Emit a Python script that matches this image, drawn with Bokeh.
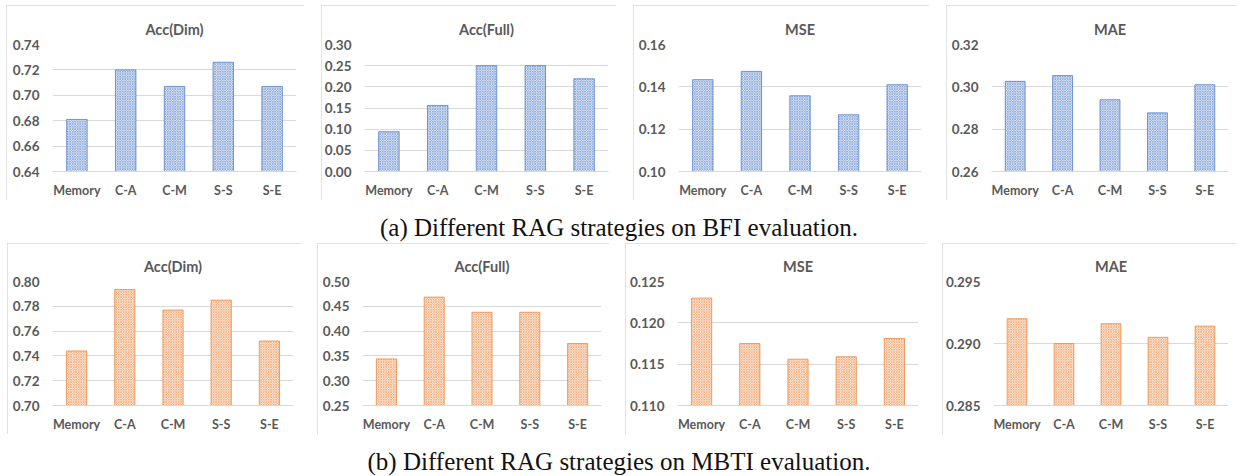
from bokeh.plotting import figure
from bokeh.models import FixedTicker, NumeralTickFormatter, Div, Title
from bokeh.layouts import row, column
from bokeh.embed import file_html
from bokeh.resources import INLINE

# ---------------- data ----------------
categories = ["Memory", "C-A", "C-M", "S-S", "S-E"]

bfi_acc_dim = [0.681, 0.720, 0.707, 0.726, 0.707]
bfi_acc_full = [0.094, 0.156, 0.250, 0.250, 0.219]
bfi_mse = [0.1434, 0.1473, 0.1358, 0.1268, 0.1410]
bfi_mae = [0.3026, 0.3053, 0.2939, 0.2877, 0.3010]

mbti_acc_dim = [0.744, 0.7935, 0.777, 0.785, 0.752]
mbti_acc_full = [0.344, 0.4685, 0.438, 0.438, 0.375]
mbti_mse = [0.1230, 0.1175, 0.1156, 0.1159, 0.1181]
mbti_mae = [0.2920, 0.2900, 0.2916, 0.2905, 0.2914]

ticks_bfi_acc_dim = [0.64, 0.66, 0.68, 0.70, 0.72, 0.74]
ticks_bfi_acc_full = [0.00, 0.05, 0.10, 0.15, 0.20, 0.25, 0.30]
ticks_bfi_mse = [0.10, 0.12, 0.14, 0.16]
ticks_bfi_mae = [0.26, 0.28, 0.30, 0.32]

ticks_mbti_acc_dim = [0.70, 0.72, 0.74, 0.76, 0.78, 0.80]
ticks_mbti_acc_full = [0.25, 0.30, 0.35, 0.40, 0.45, 0.50]
ticks_mbti_mse = [0.110, 0.115, 0.120, 0.125]
ticks_mbti_mae = [0.285, 0.290, 0.295]

titles = ["Acc(Dim)", "Acc(Full)", "MSE", "MAE"]
caption_a = "(a) Different RAG strategies on BFI evaluation."
caption_b = "(b) Different RAG strategies on MBTI evaluation."

BLUE = "#4472C4"
ORANGE = "#ED7D31"
TEXT = "#595959"
GRID = "#D9D9D9"
FONT = "Lato"


def panel(title, values, ticks, fmt, color, width, height, left, top):
    p = figure(x_range=categories, y_range=(ticks[0], ticks[-1]),
               width=width, height=height, output_backend="svg",
               toolbar_location=None, tools="",
               min_border_left=left, min_border_right=8,
               min_border_top=top, min_border_bottom=29,
               border_fill_color="white", background_fill_color="white",
               outline_line_color=None,
               styles={"outline": "1px solid #D9D9D9", "outline-offset": "-1px"})
    t = Title(text=title, align="center", text_font=FONT, text_font_size="14.5px",
              text_font_style="bold", text_color=TEXT, standoff=10,
              vertical_align="top")
    p.add_layout(t, "above")
    p.vbar(x=categories, top=values, bottom=ticks[0], width=0.42,
           fill_color="white", line_color=color, line_width=1, line_alpha=0.7,
           hatch_pattern="diagonal_cross", hatch_color=color, hatch_scale=2.5,
           hatch_weight=1, hatch_alpha=0.62)
    p.yaxis.ticker = FixedTicker(ticks=ticks)
    p.yaxis.formatter = NumeralTickFormatter(format=fmt)
    p.yaxis.axis_line_color = None
    p.yaxis.major_tick_line_color = None
    p.yaxis.minor_tick_line_color = None
    p.yaxis.major_label_text_font = FONT
    p.yaxis.major_label_text_font_size = "13.5px"
    p.yaxis.major_label_text_font_style = "bold"
    p.yaxis.major_label_text_color = TEXT
    p.yaxis.major_label_standoff = 7
    p.xaxis.axis_line_color = GRID
    p.xaxis.major_tick_line_color = None
    p.xaxis.minor_tick_line_color = None
    p.xaxis.major_label_text_font = FONT
    p.xaxis.major_label_text_font_size = "12.5px"
    p.xaxis.major_label_text_font_style = "bold"
    p.xaxis.major_label_text_color = TEXT
    p.xaxis.major_label_standoff = 5
    p.xgrid.grid_line_color = None
    p.ygrid.grid_line_color = GRID
    p.ygrid.ticker = FixedTicker(ticks=ticks)
    p.x_range.range_padding = 0.0
    return p


top_h = 195
bot_h = 191
top_row = row(
    panel(titles[0], bfi_acc_dim, ticks_bfi_acc_dim, "0.00", BLUE, 298, top_h, 46, 39),
    panel(titles[1], bfi_acc_full, ticks_bfi_acc_full, "0.00", BLUE, 295, top_h, 42, 39),
    panel(titles[2], bfi_mse, ticks_bfi_mse, "0.00", BLUE, 296, top_h, 45, 39),
    panel(titles[3], bfi_mae, ticks_bfi_mae, "0.00", BLUE, 290, top_h, 45, 39),
    spacing=17, margin=(5, 0, 0, 6))
bot_row = row(
    panel(titles[0], mbti_acc_dim, ticks_mbti_acc_dim, "0.00", ORANGE, 294, bot_h, 45, 38),
    panel(titles[1], mbti_acc_full, ticks_mbti_acc_full, "0.00", ORANGE, 292, bot_h, 45, 38),
    panel(titles[2], mbti_mse, ticks_mbti_mse, "0.000", ORANGE, 301, bot_h, 52, 38),
    panel(titles[3], mbti_mae, ticks_mbti_mae, "0.000", ORANGE, 294, bot_h, 50, 38),
    spacing=16, margin=(0, 0, 0, 7))

cap_style = ("text-align:center; font-family:'Liberation Serif', 'Times New Roman', serif; "
             "font-size:25px; line-height:28px; color:#111; width:1238px;")
cap_a = Div(text=f"<div style=\"{cap_style} padding-top:14px\">{caption_a}</div>",
            width=1238, height=43, margin=0)
cap_b = Div(text=f"<div style=\"{cap_style} padding-top:14px\">{caption_b}</div>",
            width=1238, height=42, margin=0)

layout = column(top_row, cap_a, bot_row, cap_b, spacing=0)

open("out.html", "w").write(file_html(layout, INLINE))
